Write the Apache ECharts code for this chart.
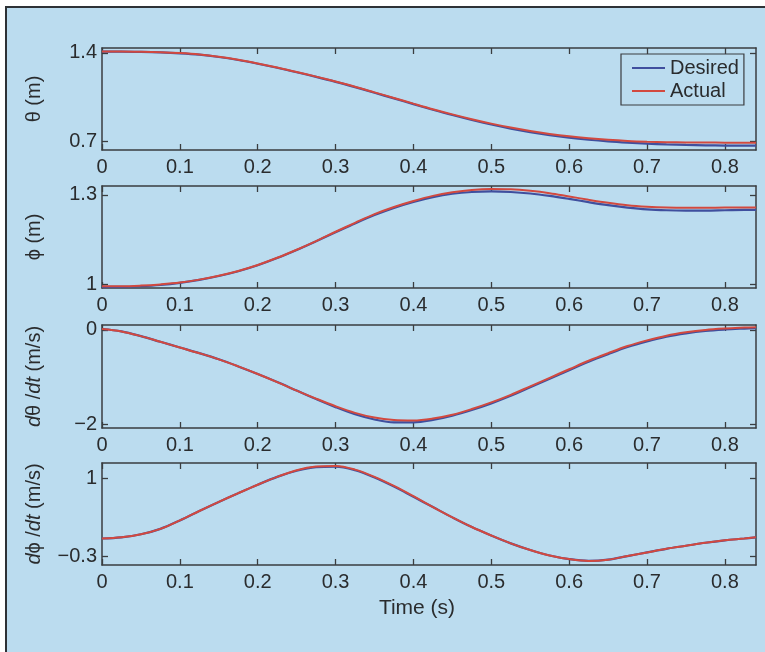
<!DOCTYPE html>
<html>
<head>
<meta charset="utf-8">
<script src="https://cdn.jsdelivr.net/npm/echarts@6/dist/echarts.min.js"></script>
<style>
  html, body { margin: 0; padding: 0; background: #ffffff; }
  #wrap { position: relative; width: 765px; height: 652px; overflow: hidden; }
  #page { position: absolute; left: 5px; top: 6px; width: 820px; height: 700px;
          border: 2px solid #2e3236; background: #bbdcef; box-sizing: border-box; }
  #chart { position: absolute; left: 0; top: 0; width: 765px; height: 652px; }
</style>
</head>
<body>
<div id="wrap">
  <div id="page"></div>
  <div id="chart"></div>
</div>
<script>
// sample times (s)
const times = [0, 0.025, 0.05, 0.075, 0.1, 0.125, 0.15, 0.175, 0.2, 0.225, 0.25, 0.275,
  0.3, 0.325, 0.35, 0.375, 0.4, 0.425, 0.45, 0.475, 0.5, 0.525, 0.55, 0.575,
  0.6, 0.625, 0.65, 0.675, 0.7, 0.725, 0.75, 0.775, 0.8, 0.825, 0.84];

// theta (m)
const thetaDesired = [1.410, 1.410, 1.408, 1.404, 1.397, 1.386, 1.368, 1.344, 1.315, 1.283, 1.248, 1.211,
  1.172, 1.130, 1.086, 1.041, 0.996, 0.952, 0.910, 0.871, 0.835, 0.803, 0.775, 0.751,
  0.731, 0.715, 0.702, 0.692, 0.684, 0.678, 0.674, 0.671, 0.669, 0.668, 0.668];
const thetaActual = [1.412, 1.412, 1.410, 1.406, 1.399, 1.388, 1.370, 1.346, 1.317, 1.285, 1.250, 1.213,
  1.174, 1.133, 1.089, 1.045, 1.000, 0.956, 0.915, 0.877, 0.842, 0.811, 0.784, 0.761,
  0.742, 0.727, 0.715, 0.706, 0.700, 0.696, 0.694, 0.693, 0.692, 0.692, 0.692];

// phi (m)
const phiDesired = [0.993, 0.993, 0.995, 0.999, 1.006, 1.016, 1.029, 1.045, 1.065, 1.089, 1.116, 1.145,
  1.175, 1.205, 1.233, 1.257, 1.277, 1.293, 1.304, 1.310, 1.312, 1.310, 1.305, 1.297,
  1.287, 1.276, 1.266, 1.258, 1.252, 1.249, 1.248, 1.248, 1.249, 1.250, 1.250];
const phiActual = [0.995, 0.995, 0.997, 1.001, 1.007, 1.017, 1.030, 1.046, 1.066, 1.090, 1.117, 1.146,
  1.177, 1.207, 1.236, 1.260, 1.280, 1.297, 1.309, 1.317, 1.320, 1.319, 1.314, 1.306,
  1.295, 1.284, 1.274, 1.266, 1.261, 1.258, 1.257, 1.257, 1.258, 1.258, 1.258];

// d(theta)/dt (m/s)
const dThetaDesired = [0.02, -0.03, -0.13, -0.25, -0.37, -0.49, -0.62, -0.77, -0.93, -1.10, -1.28, -1.46,
  -1.63, -1.78, -1.89, -1.95, -1.95, -1.90, -1.81, -1.69, -1.55, -1.39, -1.21, -1.03,
  -0.85, -0.67, -0.51, -0.36, -0.24, -0.14, -0.07, -0.02, 0.01, 0.03, 0.04];
const dThetaActual = [0.02, -0.03, -0.13, -0.25, -0.37, -0.49, -0.62, -0.77, -0.93, -1.10, -1.28, -1.45,
  -1.61, -1.75, -1.85, -1.90, -1.91, -1.87, -1.79, -1.67, -1.53, -1.37, -1.19, -1.01,
  -0.83, -0.65, -0.49, -0.34, -0.22, -0.12, -0.05, 0.00, 0.03, 0.05, 0.06];

// d(phi)/dt (m/s)
const dPhiDesired = [0.00, 0.02, 0.07, 0.16, 0.30, 0.455, 0.605, 0.75, 0.89, 1.02, 1.12, 1.18,
  1.19, 1.13, 1.01, 0.86, 0.69, 0.52, 0.35, 0.19, 0.05, -0.08, -0.19, -0.28,
  -0.34, -0.37, -0.35, -0.29, -0.23, -0.17, -0.12, -0.07, -0.03, 0.00, 0.02];
const dPhiActual = [0.00, 0.02, 0.07, 0.16, 0.30, 0.455, 0.605, 0.75, 0.89, 1.02, 1.13, 1.19,
  1.20, 1.14, 1.02, 0.87, 0.70, 0.52, 0.35, 0.19, 0.05, -0.08, -0.19, -0.28,
  -0.34, -0.37, -0.35, -0.29, -0.23, -0.17, -0.12, -0.07, -0.03, 0.00, 0.02];

// axis ticks
const xTicks = [0, 0.1, 0.2, 0.3, 0.4, 0.5, 0.6, 0.7, 0.8];
const yTicksTheta = [0.7, 1.4];
const yTicksPhi = [1, 1.3];
const yTicksDTheta = [-2, 0];
const yTicksDPhi = [-0.3, 1];

const FONT = '"Liberation Sans", Arial, Helvetica, sans-serif';
const AXIS_COLOR = '#3a3d40';
const TEXT_COLOR = '#2a2c2e';
const BLUE = '#3f4f9e';
const RED = '#d2493f';

const panels = [
  { top: 48, height: 102, min: 0.634, max: 1.439, ticks: yTicksTheta, name: 'θ (m)', d: thetaDesired, a: thetaActual },
  { top: 186, height: 102, min: 0.989, max: 1.330, ticks: yTicksPhi, name: 'ϕ (m)', d: phiDesired, a: phiActual },
  { top: 325, height: 103, min: -2.07, max: 0.105, ticks: yTicksDTheta, name: '{i|d}θ /{i|dt} (m/s)', d: dThetaDesired, a: dThetaActual },
  { top: 463, height: 102, min: -0.438, max: 1.249, ticks: yTicksDPhi, name: '{i|d}ϕ /{i|dt} (m/s)', d: dPhiDesired, a: dPhiActual }
];

const pairs = (ys) => times.map((t, i) => [t, ys[i]]);
const minusSign = (v) => String(v).replace('-', '\u2212');

const grid = [], xAxis = [], yAxis = [], series = [];
const line = { show: true, onZero: false, lineStyle: { color: AXIS_COLOR, width: 1.5 } };
const tick = (vals) => ({ show: true, inside: true, length: 6, customValues: vals,
  lineStyle: { color: AXIS_COLOR, width: 1.3 } });

panels.forEach((p, i) => {
  grid.push({ left: 102, width: 654, top: p.top, height: p.height, containLabel: false });
  // bottom x axis with labels
  xAxis.push({
    type: 'value', gridIndex: i, position: 'bottom', min: 0, max: 0.84,
    axisLine: line, axisTick: tick(xTicks), splitLine: { show: false },
    axisLabel: { customValues: xTicks, margin: 7, fontSize: 20, color: TEXT_COLOR, fontFamily: FONT },
    name: i === 3 ? 'Time (s)' : '', nameLocation: 'middle', nameGap: 33,
    nameTextStyle: { fontSize: 21, color: TEXT_COLOR, fontFamily: FONT, padding: [0, 24, 0, 0] }
  });
  // left y axis with labels and title
  yAxis.push({
    type: 'value', gridIndex: i, position: 'left', min: p.min, max: p.max,
    axisLine: line, axisTick: tick(p.ticks), splitLine: { show: false },
    axisLabel: { customValues: p.ticks, margin: 5, fontSize: 20, color: TEXT_COLOR, fontFamily: FONT,
      formatter: minusSign },
    name: p.name, nameLocation: 'middle', nameGap: 58, nameRotate: 90,
    nameTextStyle: { fontSize: 20, color: TEXT_COLOR, fontFamily: FONT,
      rich: { i: { fontSize: 20, fontStyle: 'italic', color: TEXT_COLOR, fontFamily: FONT } } }
  });
  series.push({
    name: 'Desired', type: 'line', xAxisIndex: i, yAxisIndex: i, data: pairs(p.d),
    smooth: 0.35, symbol: 'none', lineStyle: { color: BLUE, width: 2.2 }, itemStyle: { color: BLUE },
    z: 3
  });
  series.push({
    name: 'Actual', type: 'line', xAxisIndex: i, yAxisIndex: i, data: pairs(p.a),
    smooth: 0.35, symbol: 'none', lineStyle: { color: RED, width: 2 }, itemStyle: { color: RED },
    z: 4
  });
});

// top and right frame axes (ticks only)
panels.forEach((p, i) => {
  xAxis.push({
    type: 'value', gridIndex: i, position: 'top', min: 0, max: 0.84,
    axisLine: line, axisTick: tick(xTicks), axisLabel: { show: false }, splitLine: { show: false }
  });
  yAxis.push({
    type: 'value', gridIndex: i, position: 'right', min: p.min, max: p.max,
    axisLine: line, axisTick: tick(p.ticks), axisLabel: { show: false }, splitLine: { show: false }
  });
});

const chart = echarts.init(document.getElementById('chart'), null, { renderer: 'canvas' });
chart.setOption({
  animation: false,
  grid, xAxis, yAxis, series,
  legend: {
    data: [{ name: 'Desired', icon: 'rect' }, { name: 'Actual', icon: 'rect' }],
    orient: 'vertical', left: 621, top: 54,
    itemWidth: 33, itemHeight: 2, itemGap: 3, itemTextGap: 6,
    padding: [4, 5, 4, 11],
    borderColor: AXIS_COLOR, borderWidth: 1.2, backgroundColor: 'transparent',
    textStyle: { fontSize: 20, color: TEXT_COLOR, fontFamily: FONT }
  }
});
</script>
</body>
</html>
